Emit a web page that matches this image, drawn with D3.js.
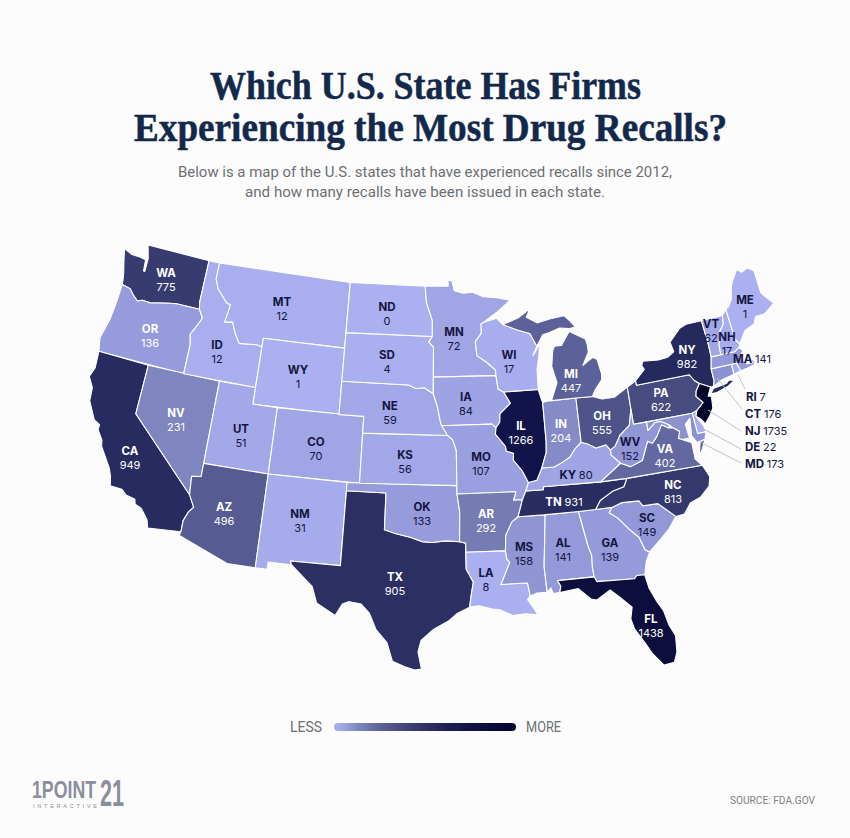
<!DOCTYPE html>
<html>
<head>
<meta charset="utf-8">
<script src="https://cdn.jsdelivr.net/npm/d3@7"></script>
<style>
  html, body { margin: 0; padding: 0; background: #fcfcfc; }
  svg { display: block; }
</style>
</head>
<body>
<svg width="850" height="838"></svg>
<script>
// values
const states = ["WA","OR","CA","NV","ID","MT","WY","UT","CO","AZ","NM","TX","OK","KS","NE","SD","ND","MN","IA","MO","AR","LA","MS","AL","GA","FL","SC","NC","TN","KY","IL","WI","IN","OH","MI","PA","NY","NJ","DE","MD","VA","WV","CT","RI","MA","VT","NH","ME"];
const recalls = [775,136,949,231,12,12,1,51,70,496,31,905,133,56,59,4,0,72,84,107,292,8,158,141,139,1438,149,813,931,80,1266,17,204,555,447,622,982,1735,22,173,402,152,176,7,141,62,17,1];

// colour ramp, sampled from the map
const rampValues = [0,136,230,447,622,775,950,1266,1735];
const rampColors = ["#aab0f0","#959bdb","#7f85be","#5c6199","#474b80","#373b70","#272b60","#12134a","#04042a"];

// state outlines in lon/lat
const WA = [[-124.7,48.38],[-123.9,48.16],[-123.1,48.15],[-122.6,48.1],[-122.5,47.4],[-122.38,47.4],[-122.4,48.2],[-122.75,49],[-117.03,49],[-117.04,46.42],[-116.92,45.995],[-118.98,45.999],[-119.6,45.92],[-121.2,45.65],[-121.9,45.68],[-122.3,45.55],[-122.8,45.85],[-123.2,46.15],[-123.95,46.25],[-124.05,46.7],[-124.15,47],[-124.4,47.6]];
const OR = [[-123.95,46.25],[-123.2,46.15],[-122.8,45.85],[-122.3,45.55],[-121.9,45.68],[-121.2,45.65],[-119.6,45.92],[-118.98,45.999],[-116.92,45.995],[-116.5,45.5],[-116.85,44.95],[-117.22,44.4],[-117.03,43.8],[-117.03,42],[-124.2,42],[-124.45,42.8],[-124.1,44],[-124,45]];
const CA = [[-124.2,42],[-120,42],[-120,39],[-114.63,35],[-114.15,34.3],[-114.45,34],[-114.72,33.4],[-114.72,32.72],[-117.12,32.53],[-117.3,33],[-117.9,33.6],[-118.4,33.75],[-118.5,34.03],[-119.2,34.15],[-119.6,34.42],[-120.5,34.45],[-120.65,34.98],[-120.9,35.45],[-121.9,36.6],[-122,36.95],[-122.5,37.5],[-122.5,37.8],[-123,38],[-123.75,39],[-123.85,39.8],[-124.35,40.4],[-124.1,41]];
const NV = [[-120,42],[-114.04,42],[-114.04,36.2],[-114.75,36.1],[-114.63,35],[-120,39]];
const ID = [[-117.03,49],[-116.05,49],[-116.05,48],[-115.7,47.45],[-114.7,46.7],[-114.35,46.65],[-114.55,45.55],[-113.9,45.65],[-113.45,44.95],[-113,44.45],[-111.5,44.55],[-111.05,44.48],[-111.05,42],[-117.03,42],[-117.03,43.8],[-117.22,44.4],[-116.85,44.95],[-116.5,45.5],[-116.92,45.995],[-117.04,46.42]];
const MT = [[-116.05,49],[-104.05,49],[-104.05,45],[-111.05,45],[-111.05,44.48],[-111.5,44.55],[-113,44.45],[-113.45,44.95],[-113.9,45.65],[-114.55,45.55],[-114.35,46.65],[-114.7,46.7],[-115.7,47.45],[-116.05,48]];
const WY = [[-111.05,45],[-104.05,45],[-104.05,41],[-111.05,41]];
const UT = [[-114.04,42],[-111.05,42],[-111.05,41],[-109.05,41],[-109.05,37],[-114.04,37]];
const CO = [[-109.05,41],[-102.05,41],[-102.05,37],[-109.05,37]];
const AZ = [[-114.04,37],[-109.05,37],[-109.05,31.33],[-111.07,31.33],[-114.81,32.5],[-114.72,32.72],[-114.72,33.4],[-114.45,34],[-114.15,34.3],[-114.63,35],[-114.75,36.1],[-114.04,36.2]];
const NM = [[-109.05,37],[-103,37],[-103.04,32],[-106.62,32],[-106.53,31.78],[-108.2,31.78],[-108.2,31.33],[-109.05,31.33]];
const TX = [[-103,36.5],[-100,36.5],[-100,34.3],[-99.2,34.1],[-98.1,33.9],[-97.2,33.65],[-96.5,33.6],[-95.5,33.7],[-94.48,33.64],[-94.04,33.55],[-94.04,33],[-94.04,32],[-93.55,31.2],[-93.75,30.3],[-93.85,29.7],[-94.7,29.35],[-95.3,28.9],[-96.4,28.35],[-97.2,27.7],[-97.4,27],[-97.15,25.96],[-97.6,25.9],[-98.3,26.1],[-99.1,26.4],[-99.5,27.5],[-100.3,28.3],[-100.8,29.25],[-101.4,29.77],[-102.3,29.87],[-102.7,29.7],[-103.15,28.98],[-104.5,29.65],[-104.9,30.6],[-106.53,31.78],[-106.62,32],[-103.04,32]];
const OK = [[-103,37],[-94.62,37],[-94.62,36.5],[-94.43,35.4],[-94.48,33.64],[-95.5,33.7],[-96.5,33.6],[-97.2,33.65],[-98.1,33.9],[-99.2,34.1],[-100,34.3],[-100,36.5],[-103,36.5]];
const KS = [[-102.05,40],[-95.3,40],[-94.9,39.75],[-94.62,39.1],[-94.62,37],[-102.05,37]];
const NE = [[-104.05,43],[-98.5,43],[-97.9,42.8],[-97.2,42.85],[-96.45,42.5],[-96.1,41.7],[-95.85,40.75],[-95.3,40],[-102.05,40],[-102.05,41],[-104.05,41]];
const SD = [[-104.05,45.94],[-96.56,45.94],[-96.85,45.6],[-96.45,45.3],[-96.45,43.5],[-96.45,42.5],[-97.2,42.85],[-97.9,42.8],[-98.5,43],[-104.05,43]];
const ND = [[-104.05,49],[-97.23,49],[-97.1,48],[-96.56,46.9],[-96.56,45.94],[-104.05,45.94]];
const MN = [[-97.23,49],[-95.15,49],[-95.15,49.38],[-94.8,49.3],[-94.6,48.72],[-93.8,48.55],[-92.95,48.6],[-92,48.3],[-90.8,48.2],[-89.6,48],[-90.9,47.3],[-92.05,46.75],[-92.3,46.65],[-92.3,46.1],[-92.85,45.6],[-92.75,44.75],[-91.9,44.3],[-91.25,43.85],[-91.22,43.5],[-96.45,43.5],[-96.45,45.3],[-96.85,45.6],[-96.56,45.94],[-96.56,46.9],[-97.1,48]];
const IA = [[-96.45,43.5],[-91.22,43.5],[-91.1,42.7],[-90.65,42.5],[-90.15,41.8],[-91.05,41.2],[-91.1,40.7],[-91.42,40.38],[-91.73,40.61],[-95.77,40.58],[-95.85,40.75],[-96.1,41.7],[-96.45,42.5]];
const MO = [[-95.77,40.58],[-91.73,40.61],[-91.42,40.38],[-91.5,40],[-90.75,39.25],[-90.7,38.95],[-90.15,38.8],[-90.2,38.4],[-89.55,37.7],[-89.15,37],[-89.4,36.5],[-89.7,36],[-90.37,36],[-90.15,36.5],[-94.62,36.5],[-94.62,37],[-94.62,39.1],[-94.9,39.75],[-95.3,40]];
const AR = [[-94.62,36.5],[-90.15,36.5],[-90.37,36],[-89.7,36],[-90.1,35],[-90.6,34.7],[-91.1,33.9],[-91.17,33],[-94.04,33],[-94.04,33.55],[-94.48,33.64],[-94.43,35.4]];
const LA = [[-94.04,33],[-91.17,33],[-91.1,32.5],[-90.9,32.3],[-91.6,31],[-89.73,31],[-89.6,30.2],[-89.8,30],[-89.45,29.5],[-89.15,29.05],[-90,29.15],[-90.9,29.1],[-91.8,29.5],[-92.3,29.55],[-93.2,29.77],[-93.85,29.7],[-93.75,30.3],[-93.55,31.2],[-94.04,32]];
const MS = [[-90.1,35],[-88.2,35],[-88.1,34.9],[-88.47,31.9],[-88.4,30.35],[-89.1,30.35],[-89.6,30.2],[-89.73,31],[-91.6,31],[-90.9,32.3],[-91.1,32.5],[-91.17,33],[-91.1,33.9],[-90.6,34.7]];
const AL = [[-88.2,35],[-85.6,35],[-85.18,32.87],[-85,32.3],[-85.05,31.55],[-85,31],[-87.6,31],[-87.4,30.65],[-87.52,30.28],[-88,30.25],[-88.1,30.6],[-88.4,30.35],[-88.47,31.9],[-88.1,34.9]];
const GA = [[-85.6,35],[-83.1,35],[-83.35,34.7],[-82.75,34.3],[-82,33.5],[-81.45,33],[-81.15,32.2],[-80.85,32.03],[-81.2,31.5],[-81.45,30.72],[-82,30.75],[-82.2,30.57],[-84.86,30.7],[-85,31],[-85.05,31.55],[-85,32.3],[-85.18,32.87]];
const FL = [[-87.6,31],[-85,31],[-84.86,30.7],[-82.2,30.57],[-82,30.75],[-81.45,30.72],[-81.3,29.9],[-80.9,29],[-80.55,28.4],[-80.35,27.5],[-80.03,26.8],[-80.12,25.8],[-80.4,25.2],[-81.1,25.13],[-81.75,25.95],[-82.1,26.6],[-82.7,27.6],[-82.85,28.2],[-82.65,28.9],[-83.4,29.6],[-84,30.1],[-85,29.6],[-85.4,29.7],[-86.2,30.4],[-87.52,30.28],[-87.4,30.65]];
const SC = [[-83.35,34.7],[-83.1,35],[-82.3,35.2],[-81.05,35.15],[-80.8,34.82],[-79.68,34.8],[-78.55,33.86],[-79.2,33.2],[-79.9,32.7],[-80.85,32.03],[-81.15,32.2],[-81.45,33],[-82,33.5],[-82.75,34.3]];
const NC = [[-75.87,36.55],[-81.68,36.59],[-82,36.12],[-82.9,35.95],[-83.9,35.5],[-84.32,35],[-83.1,35],[-82.3,35.2],[-81.05,35.15],[-80.8,34.82],[-79.68,34.8],[-78.55,33.86],[-77.9,33.9],[-77.3,34.5],[-76.5,34.7],[-75.7,35.25],[-75.5,35.8]];
const TN = [[-90.1,35],[-89.7,36],[-89.4,36.5],[-88.07,36.5],[-88.05,36.68],[-83.68,36.6],[-81.68,36.59],[-82,36.12],[-82.9,35.95],[-83.9,35.5],[-84.32,35],[-85.6,35],[-88.2,35]];
const KY = [[-89.4,36.5],[-89.15,37],[-88.5,37.1],[-88.05,37.8],[-87.1,37.8],[-86.5,38],[-85.8,38.3],[-85.4,38.7],[-84.8,39.1],[-84.3,38.95],[-83.7,38.65],[-82.9,38.75],[-82.6,38.4],[-82.6,38.1],[-81.97,37.54],[-83.68,36.6],[-88.05,36.68],[-88.07,36.5]];
const IL = [[-90.65,42.5],[-87.8,42.5],[-87.6,41.85],[-87.53,41.7],[-87.53,39.35],[-87.6,38.7],[-88.05,37.8],[-88.5,37.1],[-89.15,37],[-89.55,37.7],[-90.2,38.4],[-90.15,38.8],[-90.7,38.95],[-90.75,39.25],[-91.5,40],[-91.42,40.38],[-91.1,40.7],[-91.05,41.2],[-90.15,41.8]];
const WI = [[-92.05,46.75],[-90.9,46.95],[-90.4,46.55],[-89.1,46.15],[-88.1,45.9],[-87.6,45.1],[-88,44.55],[-87.35,45.2],[-87.5,44.5],[-87.75,43.7],[-87.8,42.5],[-90.65,42.5],[-91.1,42.7],[-91.22,43.5],[-91.25,43.85],[-91.9,44.3],[-92.75,44.75],[-92.85,45.6],[-92.3,46.1],[-92.3,46.65]];
const IN = [[-87.53,41.7],[-87.2,41.75],[-86.8,41.76],[-84.8,41.76],[-84.8,39.1],[-85.4,38.7],[-85.8,38.3],[-86.5,38],[-87.1,37.8],[-88.05,37.8],[-87.6,38.7],[-87.53,39.35]];
const OH = [[-84.8,41.76],[-83.45,41.73],[-82.7,41.5],[-81.7,41.5],[-80.52,41.98],[-80.52,40.64],[-80.85,39.7],[-81.7,39.2],[-82.2,38.6],[-82.6,38.4],[-82.9,38.75],[-83.7,38.65],[-84.3,38.95],[-84.8,39.1]];
const MI_LOWER = [[-86.8,41.76],[-84.8,41.76],[-83.45,41.73],[-83.15,42.1],[-82.5,42.65],[-82.45,43],[-82.65,43.9],[-83,44.05],[-83.9,43.65],[-83.3,44.4],[-83.3,44.85],[-83.4,45.2],[-84.7,45.78],[-85,45.5],[-85.5,45],[-86.1,45],[-86.3,44.7],[-86.5,43.8],[-86.2,42.8]];
const MI_UPPER = [[-90.4,46.55],[-89.1,46.15],[-88.1,45.9],[-87.6,45.1],[-87,45.75],[-86.4,45.85],[-85.5,46.05],[-84.7,45.95],[-84.1,46],[-84.6,46.47],[-85,46.77],[-86.2,46.67],[-87.4,46.5],[-88.3,46.9],[-87.9,47.4],[-89,46.9]];
const PA = [[-80.52,41.98],[-79.76,42.27],[-79.76,42],[-75.35,42],[-75.05,41.6],[-74.7,41.36],[-75.1,40.95],[-75.2,40.65],[-74.75,40.2],[-75.4,39.8],[-75.79,39.72],[-80.52,39.72],[-80.52,40.64]];
const NY = [[-79.76,42.27],[-79.76,42],[-75.35,42],[-75.05,41.6],[-74.7,41.36],[-73.9,41],[-73.65,41],[-73.5,41.3],[-73.5,42.05],[-73.27,42.75],[-73.25,43.55],[-73.35,45],[-74.7,45],[-75.3,44.85],[-76.35,44.15],[-76.2,43.55],[-76.8,43.3],[-77.6,43.25],[-78.9,43.35],[-79.05,43.1],[-78.9,42.85]];
const NY_LI = [[-74,40.6],[-73.7,40.87],[-72.6,40.98],[-72.3,41.15],[-71.9,41.05],[-72.5,40.8],[-73.5,40.6]];
const NJ = [[-74.7,41.36],[-73.9,41],[-74.25,40.5],[-74,40.45],[-74.1,39.75],[-74.4,39.4],[-74.95,38.93],[-75.2,39.25],[-75.55,39.5],[-75.4,39.8],[-74.75,40.2],[-75.2,40.65],[-75.1,40.95]];
const DE = [[-75.79,39.72],[-75.4,39.8],[-75.55,39.5],[-75.1,38.8],[-75.05,38.45],[-75.7,38.46]];
const MD = [[-79.48,39.72],[-75.79,39.72],[-75.7,38.46],[-75.05,38.45],[-75.25,38.03],[-75.9,37.95],[-76.2,38.4],[-76.05,39.45],[-76.5,39.15],[-76.4,38.3],[-77,38.3],[-77.25,38.4],[-77.05,38.8],[-77.5,39.1],[-77.75,39.3],[-78.35,39.6],[-78.8,39.6],[-79.48,39.2]];
const VA = [[-83.68,36.6],[-81.68,36.59],[-75.87,36.55],[-76.3,37],[-76.3,37.6],[-76.3,38],[-77,38.3],[-77.25,38.4],[-77.05,38.8],[-77.5,39.1],[-77.83,39.13],[-78.35,39.4],[-78.87,38.77],[-79.3,38.42],[-79.65,38.58],[-80.3,37.5],[-81.25,37.25],[-81.97,37.54]];
const VA_SHORE = [[-75.95,37.15],[-75.65,37.95],[-75.25,38.03],[-75.6,37.5]];
const WV = [[-82.6,38.4],[-82.6,38.1],[-81.97,37.54],[-81.25,37.25],[-80.3,37.5],[-79.65,38.58],[-79.3,38.42],[-78.87,38.77],[-78.35,39.4],[-77.83,39.13],[-77.75,39.3],[-78.35,39.6],[-78.8,39.6],[-79.48,39.2],[-79.48,39.72],[-80.52,39.72],[-80.52,40.64],[-80.85,39.7],[-81.7,39.2],[-82.2,38.6]];
const CT = [[-73.5,42.05],[-71.8,42.02],[-71.8,41.4],[-72.9,41.25],[-73.65,41],[-73.5,41.3]];
const RI = [[-71.8,42.02],[-71.38,42.02],[-71.2,41.5],[-71.8,41.4]];
const MA = [[-73.5,42.05],[-73.27,42.75],[-71.3,42.7],[-70.85,42.88],[-70.6,42.65],[-71,42.3],[-70.55,41.8],[-70.1,41.78],[-70.2,42.07],[-69.95,41.9],[-69.97,41.65],[-70.65,41.55],[-71.2,41.5],[-71.38,42.02],[-71.8,42.02]];
const VT = [[-73.35,45],[-71.5,45],[-71.6,44.5],[-72.05,44.1],[-72.4,43.3],[-72.45,42.73],[-73.27,42.75],[-73.25,43.55]];
const NH = [[-71.5,45],[-71.08,45.3],[-70.98,43.4],[-70.7,43.08],[-70.85,42.88],[-71.3,42.7],[-72.45,42.73],[-72.4,43.3],[-72.05,44.1],[-71.6,44.5]];
const ME = [[-71.08,45.3],[-70.8,45.4],[-70.4,45.8],[-70.25,46.2],[-70,46.7],[-69.23,47.46],[-68.9,47.2],[-68.3,47.35],[-67.8,47.07],[-67.8,45.7],[-67.45,45.3],[-67,44.85],[-68,44.4],[-68.8,44.4],[-69.1,44],[-70,43.75],[-70.7,43.08],[-70.98,43.4]];

const outlines = [[WA],[OR],[CA],[NV],[ID],[MT],[WY],[UT],[CO],[AZ],[NM],[TX],[OK],[KS],[NE],[SD],[ND],[MN],[IA],[MO],[AR],[LA],[MS],[AL],[GA],[FL],[SC],[NC],[TN],[KY],[IL],[WI],[IN],[OH],[MI_LOWER,MI_UPPER],[PA],[NY,NY_LI],[NJ],[DE],[MD],[VA,VA_SHORE],[WV],[CT],[RI],[MA],[VT],[NH],[ME]];

// labels: x, y of the abbreviation line, and colour
const labelPlain = {
  WA:[166,273,1],OR:[150,329,1],CA:[130,451,1],NV:[176,413,1],ID:[217,345,0],MT:[282,302,0],WY:[298,370,0],UT:[241,429,0],CO:[316,442,0],
  AZ:[224,507,1],NM:[300,514,0],TX:[395,577,1],OK:[422,507,0],KS:[405,455,0],NE:[390,406,0],SD:[387,355,0],ND:[387,307,0],MN:[454,332,0],IA:[466,397,0],
  MO:[481,457,0],AR:[486,514,1],LA:[486,573,0],MS:[524,547,0],AL:[563,543,0],GA:[610,543,0],FL:[651,619,1],SC:[647,518,0],NC:[673,485,1],
  IL:[521,426,1],WI:[509,355,0],IN:[561,424,1],OH:[602,416,1],MI:[571,374,1],PA:[661,393,1],NY:[687,350,1],VA:[665,449,1],WV:[630,442,0],
  VT:[711,324,0],NH:[727,337,0],ME:[745,300,0]
};
const labelInline = { KY:[576,475,"middle",0], TN:[564,502,"middle",1], MA:[733,359,"start",0] };
const callouts = [
  ["RI",746,397,738,375,745,389],
  ["CT",745,414,717,378,742,409],
  ["NJ",745,431,708,410,741,431],
  ["DE",745,447,702,428,741,449],
  ["MD",745,464,702,443,741,463]
];

const svg = d3.select("svg");
const bg = "#fcfcfc", ink = "#14163f";
svg.append("rect").attr("width", 850).attr("height", 838).attr("fill", bg);

const color = d3.scaleLinear().domain(rampValues).range(rampColors);
const valueOf = (id) => recalls[states.indexOf(id)];

// d3 wants clockwise rings, flip whatever comes out inside-out
function ring(pts) {
  const closed = pts.concat([pts[0]]);
  const poly = { type: "Polygon", coordinates: [closed] };
  return d3.geoArea(poly) > 2 * Math.PI ? closed.slice().reverse() : closed;
}
const features = states.map((id, i) => ({
  type: "Feature",
  id: id,
  geometry: { type: "MultiPolygon", coordinates: outlines[i].map((p) => [ring(p)]) }
}));

const projection = d3.geoAlbers().rotate([96, 0]).center([0, 38]).parallels([29.5, 45.5])
  .fitExtent([[88, 245], [775, 670]], { type: "FeatureCollection", features: features });
const path = d3.geoPath(projection);

svg.append("g").selectAll("path")
  .data(features)
  .enter()
  .append("path")
  .attr("d", path)
  .attr("fill", (d) => color(valueOf(d.id)))
  .attr("stroke", "#ffffff")
  .attr("stroke-width", 1.1)
  .attr("stroke-linejoin", "round");

// title
const title = svg.append("g").attr("font-family", "'Liberation Serif', serif").attr("font-weight", 700)
  .attr("font-size", 39).attr("fill", "#12294b").attr("stroke", "#12294b").attr("stroke-width", 0.5).attr("text-anchor", "middle");
title.append("text").attr("x", 425.5).attr("y", 99).attr("textLength", 431).attr("lengthAdjust", "spacingAndGlyphs").text("Which U.S. State Has Firms");
title.append("text").attr("x", 430.5).attr("y", 141).attr("textLength", 593).attr("lengthAdjust", "spacingAndGlyphs").text("Experiencing the Most Drug Recalls?");

// subtitle
const sub = svg.append("g").attr("font-family", "Roboto, sans-serif").attr("font-size", 14.5)
  .attr("fill", "#6d6f73").attr("text-anchor", "middle");
sub.append("text").attr("x", 425).attr("y", 177).attr("textLength", 494).attr("lengthAdjust", "spacingAndGlyphs").text("Below is a map of the U.S. states that have experienced recalls since 2012,");
sub.append("text").attr("x", 425).attr("y", 197).attr("textLength", 360).attr("lengthAdjust", "spacingAndGlyphs").text("and how many recalls have been issued in each state.");

// state labels
const labels = svg.append("g").attr("font-family", "Inter, sans-serif").attr("font-size", 11);
Object.keys(labelPlain).forEach((id) => {
  const [x, y, light] = labelPlain[id];
  const g = labels.append("g").attr("text-anchor", "middle").attr("fill", light ? "#ffffff" : ink);
  g.append("text").attr("x", x).attr("y", y + 4).attr("font-weight", 700).attr("font-size", 11.5).text(id);
  g.append("text").attr("x", x).attr("y", y + 17.5).text(valueOf(id));
});
Object.keys(labelInline).forEach((id) => {
  const [x, y, anchor, light] = labelInline[id];
  const t = labels.append("text").attr("x", x).attr("y", y + 4).attr("text-anchor", anchor).attr("fill", light ? "#ffffff" : ink);
  t.append("tspan").attr("font-weight", 700).attr("font-size", 11.5).text(id + " ");
  t.append("tspan").text(valueOf(id));
});

// leader lines for the small eastern states
callouts.forEach(([id, x, y, x1, y1, x2, y2]) => {
  svg.append("line").attr("x1", x1).attr("y1", y1).attr("x2", x2).attr("y2", y2)
    .attr("stroke", "#c4c4c4").attr("stroke-width", 1);
  const t = labels.append("text").attr("x", x).attr("y", y + 4).attr("fill", ink);
  t.append("tspan").attr("font-weight", 700).attr("font-size", 11.5).text(id + " ");
  t.append("tspan").text(valueOf(id));
});

// legend
const grad = svg.append("defs").append("linearGradient").attr("id", "ramp");
rampValues.forEach((v) => {
  grad.append("stop").attr("offset", v / d3.max(rampValues)).attr("stop-color", color(v));
});
svg.append("rect").attr("x", 334).attr("y", 723).attr("width", 182).attr("height", 8).attr("rx", 4).attr("fill", "url(#ramp)");
const legend = svg.append("g").attr("font-family", "Roboto, sans-serif").attr("font-size", 14).attr("fill", "#6d6f73");
legend.append("text").attr("x", 290).attr("y", 732).attr("textLength", 32).attr("lengthAdjust", "spacingAndGlyphs").text("LESS");
legend.append("text").attr("x", 526).attr("y", 732).attr("textLength", 35).attr("lengthAdjust", "spacingAndGlyphs").text("MORE");

// source + logo
svg.append("text").attr("x", 815).attr("y", 804).attr("text-anchor", "end").attr("font-family", "Roboto, sans-serif")
  .attr("font-size", 11).attr("fill", "#7d7f83").attr("textLength", 85).attr("lengthAdjust", "spacingAndGlyphs").text("SOURCE: FDA.GOV");
const logo = svg.append("g").attr("fill", "#8b8e9b").attr("font-family", "'Liberation Sans Narrow', 'Liberation Sans', sans-serif").attr("font-weight", 700);
logo.append("text").attr("x", 32).attr("y", 798).attr("font-size", 23).attr("textLength", 64).attr("lengthAdjust", "spacingAndGlyphs").text("1POINT");
logo.append("text").attr("x", 100).attr("y", 806).attr("font-size", 37).attr("textLength", 24).attr("lengthAdjust", "spacingAndGlyphs").text("21");
logo.append("text").attr("x", 33).attr("y", 807.5).attr("font-size", 5.5).attr("font-weight", 400).attr("textLength", 64).text("INTERACTIVE");
</script>
</body>
</html>
